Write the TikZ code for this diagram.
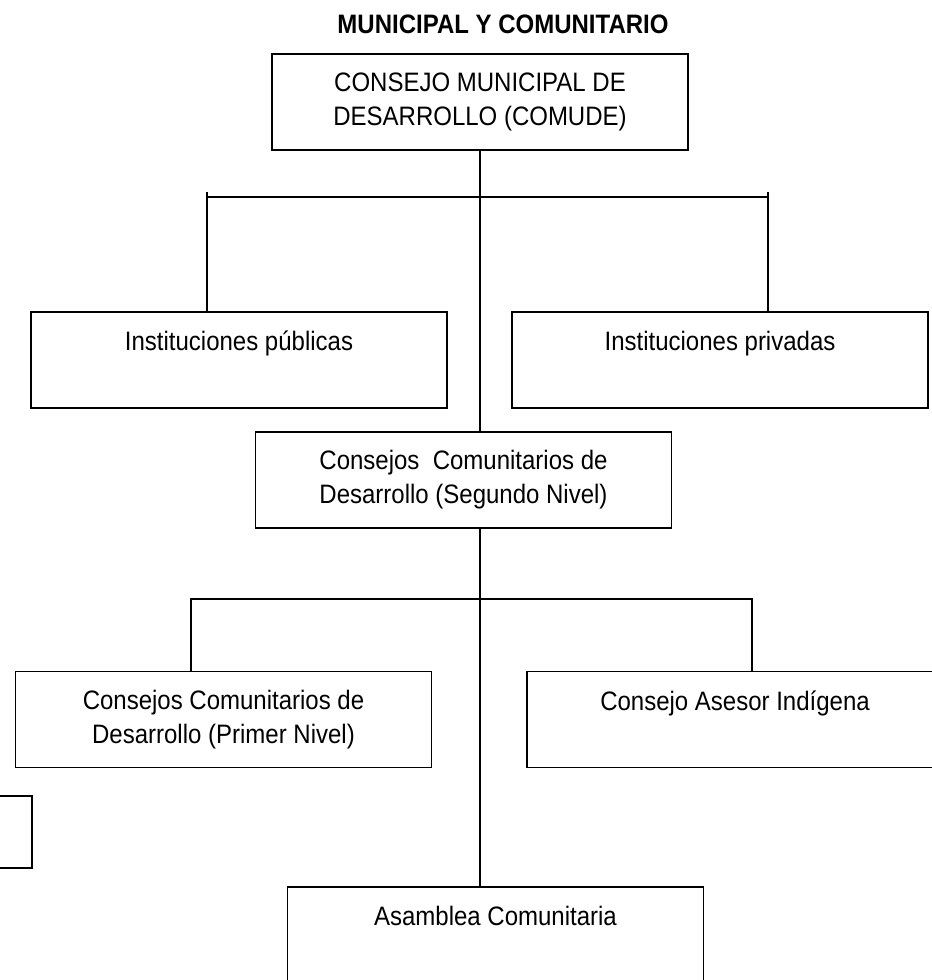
\documentclass[tikz,border=0pt]{standalone}
\usepackage{fontspec}
\setmainfont[FakeStretch=0.9]{Liberation Sans}

\begin{document}
\begin{tikzpicture}[x=0.75pt,y=-0.75pt,
  caja/.style={draw,line width=1.4pt,minimum width=312pt,minimum height=72pt,
    inner sep=0pt,align=center,font=\fontsize{20}{25.5}\selectfont},
  cajaalta/.style={caja,text height=29pt,text depth=43pt},
  linea/.style={line width=0.9pt}]
  \useasboundingbox (0,0) rectangle (931,980);

  % title
  \node[anchor=base,font=\fontsize{20}{22}\selectfont\bfseries] (titulo) at (503,34)
    {MUNICIPAL Y COMUNITARIO};

  % municipal council
  \node[caja] (comude) at (480,102) {CONSEJO MUNICIPAL DE\\DESARROLLO (COMUDE)};

  % institutions
  \node[cajaalta] (publicas) at (239,360) {Instituciones públicas};
  \node[cajaalta] (privadas) at (720,360) {Instituciones privadas};

  % second level
  \node[caja] (segundo) at (463.5,480) {Consejos~ Comunitarios de\\Desarrollo (Segundo Nivel)};

  % first level and advisory council
  \node[caja] (primer) at (223.5,719.5) {Consejos Comunitarios de\\Desarrollo (Primer Nivel)};
  \node[cajaalta] (indigena) at (735,719.5) {Consejo Asesor Indígena};

  % cut box at the left edge
  \node[caja,minimum height=54pt] (resto) at (-176,832) {};

  % assembly
  \node[cajaalta] (asamblea) at (495.5,935) {Asamblea Comunitaria};

  % connectors
  \coordinate (b1l) at (207,192);
  \coordinate (b1r) at (768,192);
  \coordinate (bar1) at (480,197);
  \draw[linea] (comude.south) -- (comude.south |- segundo.north);
  \draw[linea] (b1l) -- (b1l |- publicas.north);
  \draw[linea] (b1r) -- (b1r |- privadas.north);
  \draw[linea] (b1l |- bar1) -- (b1r |- bar1);

  \coordinate (b2l) at (191,599);
  \coordinate (b2r) at (752,599);
  \draw[linea] (b2l |- primer.north) -- (b2l) -- (b2r) -- (b2r |- indigena.north);
  \draw[linea] (segundo.south -| comude.south) -- (asamblea.north -| comude.south);
\end{tikzpicture}
\end{document}
